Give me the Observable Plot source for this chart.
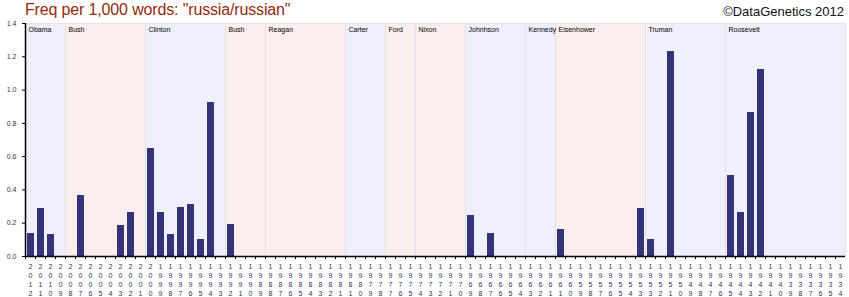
<!DOCTYPE html>
<html>
<head>
<meta charset="utf-8">
<script src="https://cdn.jsdelivr.net/npm/d3@7"></script>
<script src="https://cdn.jsdelivr.net/npm/@observablehq/plot@0.6"></script>
<style>
  html, body { margin: 0; padding: 0; background: #fff; }
  #wrap { width: 849px; height: 297px; position: relative; overflow: hidden; font-family: "Liberation Sans", Arial, sans-serif; }
  #chart { position: absolute; left: 0; top: 0; }
  #title { position: absolute; left: 25px; top: 1px; font-size: 16px; color: #922a0e; letter-spacing: -0.15px; white-space: nowrap; z-index: 2; }
  #copy { position: absolute; right: 5px; top: 4px; font-size: 13px; color: #111; white-space: nowrap; z-index: 2; }
  svg { display: block; }
</style>
</head>
<body>
<div id="wrap">
  <div id="chart"></div>
  <div id="title">Freq per 1,000 words: "russia/russian"</div>
  <div id="copy">©DataGenetics 2012</div>
</div>
<script>
// Year label of each address column (duplicates are years with two addresses)
const yearLabels = [
  "2012","2011","2010","2009","2008","2007","2006","2005","2004","2003",
  "2002","2001","2000","1999","1998","1997","1996","1995","1994","1993",
  "1992","1991","1990","1989","1988","1987","1986","1985","1984","1983",
  "1982","1981","1981","1980","1979","1978","1977","1976","1975","1974",
  "1973","1972","1971","1970","1969","1968","1967","1966","1965","1964",
  "1963","1962","1961","1961","1960","1959","1958","1957","1956","1955",
  "1954","1953","1953","1952","1951","1950","1949","1948","1947","1946",
  "1945","1944","1943","1942","1941","1940","1939","1938","1937","1936",
  "1935","1934"
];
// Frequency per 1,000 words for each column
const freq = [
  0.14, 0.29, 0.135, 0, 0, 0.365, 0, 0, 0, 0.185,
  0.262, 0, 0.648, 0.262, 0.135, 0.294, 0.31, 0.105, 0.925, 0,
  0.19, 0, 0, 0, 0, 0, 0, 0, 0, 0,
  0, 0, 0, 0, 0, 0, 0, 0, 0, 0,
  0, 0, 0, 0, 0.244, 0, 0.14, 0, 0, 0,
  0, 0, 0, 0.16, 0, 0, 0, 0, 0, 0,
  0, 0.286, 0.105, 0, 1.232, 0, 0, 0, 0, 0,
  0.485, 0.262, 0.864, 1.123, 0, 0, 0, 0, 0, 0,
  0, 0
];
// Presidents (as labelled), number of columns each spans, and party
const presidents = ["Obama","Bush","Clinton","Bush","Reagan","Carter","Ford","Nixon","Johnhson","Kennedy","Eisenhower","Truman","Roosevelt"];
const termColumns = [4, 8, 8, 4, 8, 4, 3, 5, 6, 3, 9, 8, 12];
const parties = ["D","R","D","R","R","D","R","R","D","D","R","D","D"];
const yTicks = [0, 0.2, 0.4, 0.6, 0.8, 1.0, 1.2, 1.4];

const partyFill = {D: "#efeffd", R: "#fdeeee"};
const barColor = "#333377";
const textColor = "#333355";

const cols = yearLabels.map((y, i) => ({i, year: y, v: freq[i]}));
const regions = [];
const bgCols = [];
let start = 0;
presidents.forEach((name, k) => {
  regions.push({name, start, party: parties[k]});
  for (let j = 0; j < termColumns[k]; j++) bgCols.push({i: start + j, party: parties[k]});
  start += termColumns[k];
});
const yTop = yTicks[yTicks.length - 1];
const idx = cols.map(d => d.i);

const chart = Plot.plot({
  width: 849,
  height: 297,
  marginLeft: 25,
  marginRight: 4,
  marginTop: 23,
  marginBottom: 41,
  style: {fontFamily: "'Liberation Sans', Arial, sans-serif", fontSize: "7px", background: "transparent"},
  x: {type: "band", domain: idx, padding: 0, align: 0, label: null},
  y: {domain: [0, yTop], label: null},
  marks: [
    Plot.barY(bgCols, {x: "i", y1: 0, y2: yTop, fill: d => partyFill[d.party], inset: 0, shapeRendering: "crispEdges"}),
    Plot.ruleX(regions.slice(1), {x: "start", y1: 0, y2: yTop, dx: -5, stroke: "#e2e2e6", strokeWidth: 1}),
    Plot.frame({stroke: "#e4e4e8"}),
    Plot.barY(cols.filter(d => d.v > 0), {x: "i", y: "v", fill: barColor, insetLeft: 2, insetRight: 1, shapeRendering: "crispEdges"}),
    Plot.text(regions, {x: "start", y: yTop, text: "name", textAnchor: "start", lineAnchor: "top", dx: -2, dy: 4, fontSize: 7, fill: "#000"}),
    Plot.axisX({ticks: idx, tickSize: 3, tickFormat: () => "", dx: -5, stroke: "#000"}),
    Plot.axisX({ticks: idx, tickSize: 0, tickPadding: 6, fontSize: 7, lineHeight: 1.3, fill: textColor,
      tickFormat: i => yearLabels[i].split("").join("\n")}),
    Plot.axisY({ticks: yTicks, tickSize: 3, tickPadding: 6, fontSize: 7, fill: textColor, stroke: "#000", tickFormat: d3.format(".1f")}),
    Plot.ruleY([0], {stroke: "#000", strokeWidth: 1.5}),
    Plot.ruleX([0], {y1: 0, y2: yTop, dx: -5, stroke: "#000", strokeWidth: 1.5})
  ]
});
document.getElementById("chart").appendChild(chart);
</script>
</body>
</html>
